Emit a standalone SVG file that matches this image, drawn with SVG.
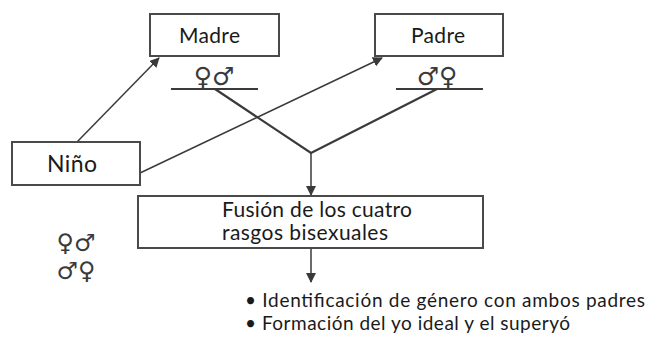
<svg xmlns="http://www.w3.org/2000/svg" width="646" height="337" viewBox="0 0 646 337">
<defs>
<marker id="ah" markerWidth="10" markerHeight="10" refX="9" refY="5" orient="auto" markerUnits="userSpaceOnUse">
<path d="M0,0 L10,5 L0,10 z" fill="#3a3a3a"/>
</marker>
<style>
.box{fill:#fff;stroke:#4a4a4a;stroke-width:2}
.t{font-family:Lato,"Noto Sans",sans-serif;fill:#1a1a1a}
.sym{font-family:"DejaVu Sans",sans-serif;fill:#3a3a3a}
.ln{stroke:#3a3a3a;stroke-width:1.5;fill:none}
.bl{stroke:#3a3a3a;stroke-width:2.2;fill:none}
</style>
</defs>
<rect width="646" height="337" fill="#fff"/>
<g id="connectors">
<line class="ln" x1="77" y1="142" x2="159" y2="58" marker-end="url(#ah)"/>
<line class="ln" x1="140" y1="173" x2="382" y2="58" marker-end="url(#ah)"/>
<polyline class="bl" points="215,89 311,153 437,89"/>
<line class="ln" x1="311" y1="153" x2="311" y2="195" marker-end="url(#ah)"/>
<line class="ln" x1="311" y1="248" x2="311" y2="282" marker-end="url(#ah)"/>
</g>
<g id="madre">
<rect class="box" x="150" y="14" width="129" height="42"/>
<text class="t" x="179" y="43" font-size="21" textLength="61" lengthAdjust="spacing">Madre</text>
<text class="sym" x="214" y="85" font-size="25" text-anchor="middle">♀♂</text>
<line class="bl" x1="171" y1="89" x2="258" y2="89"/>
</g>
<g id="padre">
<rect class="box" x="375" y="14" width="128" height="42"/>
<text class="t" x="411" y="43" font-size="21" textLength="54" lengthAdjust="spacing">Padre</text>
<text class="sym" x="437" y="85" font-size="25" text-anchor="middle">♂♀</text>
<line class="bl" x1="396" y1="89" x2="483" y2="89"/>
</g>
<g id="nino">
<rect class="box" x="12" y="142" width="128" height="43"/>
<text class="t" x="47" y="172" font-size="23" textLength="50" lengthAdjust="spacing">Niño</text>
</g>
<g id="fusion">
<rect class="box" x="138" y="196" width="345" height="52"/>
<text class="t" x="222" y="217" font-size="21" textLength="190" lengthAdjust="spacing">Fusión de los cuatro</text>
<text class="t" x="222" y="240" font-size="21" textLength="166" lengthAdjust="spacing">rasgos bisexuales</text>
</g>
<g id="symbols">
<text class="sym" x="76" y="251" font-size="24" text-anchor="middle">♀♂</text>
<text class="sym" x="76" y="279" font-size="24" text-anchor="middle">♂♀</text>
</g>
<g id="bullets">
<text class="t" x="245" y="307" font-size="19" textLength="400" lengthAdjust="spacing">• Identificación de género con ambos padres</text>
<text class="t" x="245" y="330" font-size="19" textLength="325" lengthAdjust="spacing">• Formación del yo ideal y el superyó</text>
</g>
</svg>
